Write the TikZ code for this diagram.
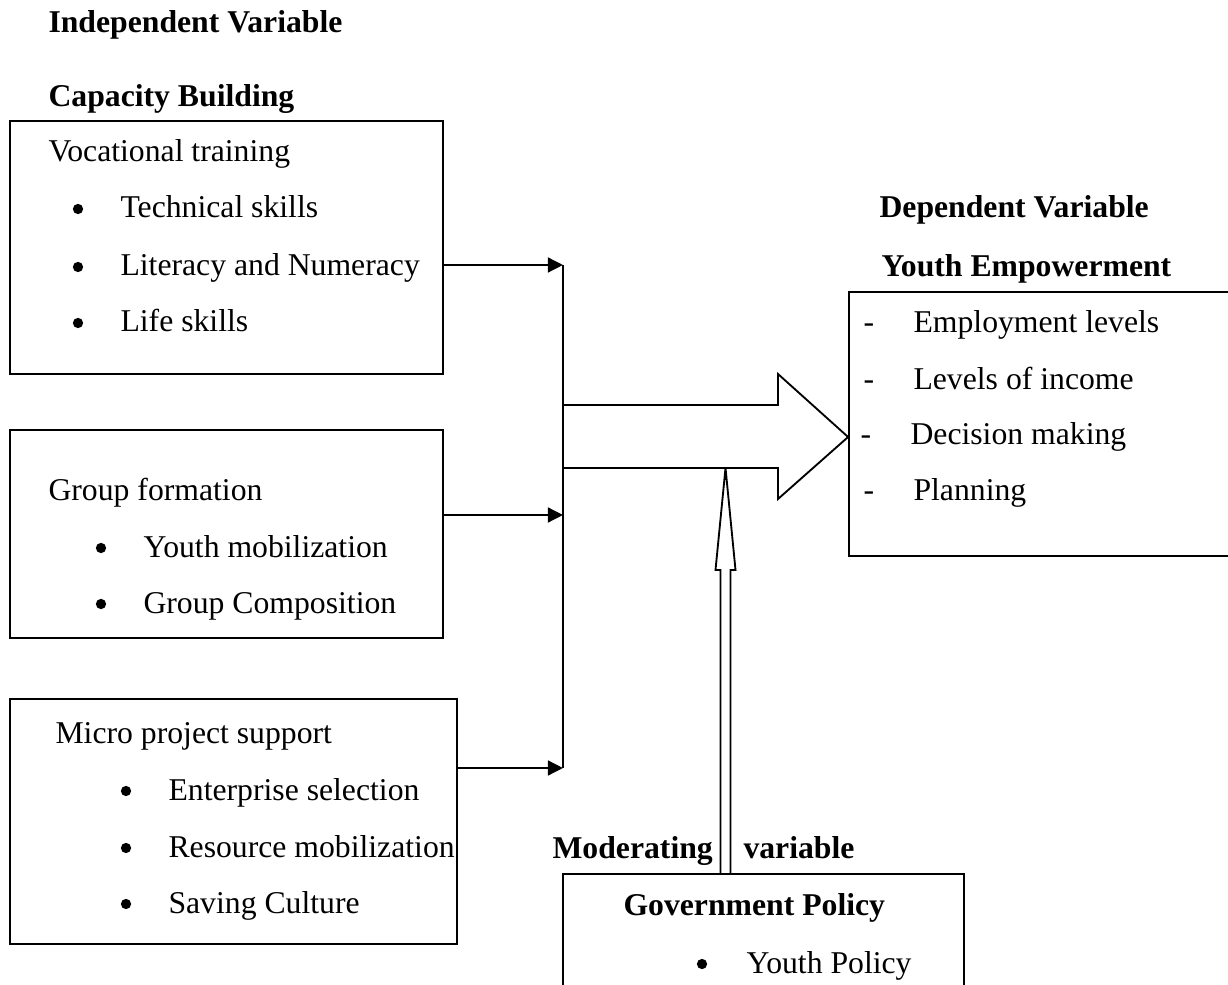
\documentclass[tikz,border=0pt]{standalone}
\usepackage{fontspec}
\setmainfont{Liberation Serif}
\usetikzlibrary{arrows.meta, positioning, fit}
\tikzset{
  frame/.style={draw, line width=0.7pt, inner sep=0pt},
  txt/.style={anchor=base west, inner sep=0pt, font=\fontsize{12}{14}\selectfont},
  hd/.style={txt, font=\fontsize{12}{14}\selectfont\bfseries},
  dot/.style={circle, fill, inner sep=0pt, minimum size=3.9pt},
  link/.style={line width=0.7pt},
  feed/.style={line width=0.8pt, -{Triangle[length=5.7pt,width=5.6pt]}},
}

\begin{document}
\begin{tikzpicture}[x=0.3785pt, y=-0.3785pt]
  \useasboundingbox (0,0) rectangle (1228,985);
  \clip (0,0) rectangle (1228,985);

  % headings
  \node[hd] (indep) at (48,33) {Independent Variable};
  \node[hd] (capb) at (48,107) {Capacity Building};
  \node[hd] (dep) at (879,218) {Dependent Variable};
  \node[hd] (yemp) at (881,277) {Youth Empowerment};

  % the three input boxes
  \coordinate (v1) at (10,121);  \coordinate (v2) at (443,374);
  \coordinate (g1) at (10,430);  \coordinate (g2) at (443,638);
  \coordinate (m1) at (10,699);  \coordinate (m2) at (457,944);
  \node[frame, fit=(v1)(v2)] (voc) {};
  \node[frame, fit=(g1)(g2)] (grp) {};
  \node[frame, fit=(m1)(m2)] (mps) {};

  \node[txt] (voc-h) at (48,162) {Vocational training};
  \foreach \t/\y [count=\i] in {Technical skills/218, Literacy and Numeracy/276, Life skills/332}{
    \node[dot] (voc-b\i) at (78,\y-9) {};
    \node[txt] (voc-\i) at (120,\y) {\t};
  }
  \node[txt] (grp-h) at (48,500) {Group formation};
  \foreach \t/\y [count=\i] in {Youth mobilization/557, Group Composition/613}{
    \node[dot] (grp-b\i) at (101,\y-9) {};
    \node[txt] (grp-\i) at (143,\y) {\t};
  }
  \node[txt] (mps-h) at (55,743) {Micro project support};
  \foreach \t/\y [count=\i] in {Enterprise selection/800, Resource mobilization/857, Saving Culture/913}{
    \node[dot] (mps-b\i) at (126,\y-9) {};
    \node[txt] (mps-\i) at (168,\y) {\t};
  }

  % outcome box, runs off the right edge
  \coordinate (o1) at (849,292); \coordinate (o2) at (1240,556);
  \node[frame, fit=(o1)(o2)] (out) {};
  \foreach \t/\y/\dx [count=\i] in {Employment levels/333/0, Levels of income/390/0, Decision making/445/-3, Planning/500/0}{
    \node[txt] (out-d\i) at (863+\dx,\y) {-};
    \node[txt] (out-\i) at (913+\dx,\y) {\t};
  }

  % moderating box, runs off the bottom edge
  \coordinate (p1) at (563,874); \coordinate (p2) at (964,1000);
  \node[frame, fit=(p1)(p2)] (gov) {};
  \node[hd] (modl) at (552,858) {Moderating};
  \node[hd] (modr) at (743,858) {variable};
  \node[hd] (gov-h) at (623,915) {Government Policy};
  \node[dot] (gov-b1) at (702,964) {};
  \node[txt] (gov-1) at (746,973) {Youth Policy};

  % feeders into the collecting line
  \coordinate (j1) at (563,265);
  \coordinate (j2) at (563,515);
  \coordinate (j3) at (563,768);
  \draw[feed] (voc.east |- j1) -- (j1);
  \draw[feed] (grp.east |- j2) -- (j2);
  \draw[feed] (mps.east |- j3) -- (j3);
  \draw[link] (j1) -- (j3);

  % big block arrow
  \draw[link] (563,405) -- (778,405) -- (778,374) -- (out.west |- 0,437)
    -- (778,499) -- (778,468) -- (563,468);

  % narrow hollow arrow up from the policy box
  \draw[link] (720.5,874) -- (720.5,570) -- (715.5,570) -- (725.5,468)
    -- (735.5,570) -- (730.5,570) -- (730.5,874);
\end{tikzpicture}
\end{document}
